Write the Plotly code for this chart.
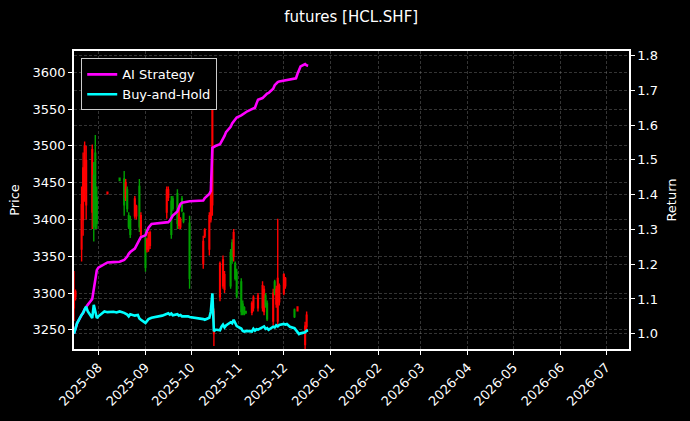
import plotly.graph_objects as go

# candles (only the days that show a visible bar)
candle_dates = [
    "2025-07-16", "2025-07-17", "2025-07-21", "2025-07-22", "2025-07-23", "2025-07-24",
    "2025-07-28", "2025-07-29", "2025-07-30", "2025-07-31", "2025-08-07", "2025-08-15",
    "2025-08-18", "2025-08-19", "2025-08-20", "2025-08-21", "2025-08-22", "2025-08-25",
    "2025-08-26", "2025-08-28", "2025-08-29", "2025-09-01", "2025-09-02", "2025-09-03",
    "2025-09-04", "2025-09-15", "2025-09-16", "2025-09-18", "2025-09-19", "2025-09-22",
    "2025-09-23", "2025-09-24", "2025-09-25", "2025-09-26", "2025-09-30", "2025-10-09",
    "2025-10-10", "2025-10-13", "2025-10-14", "2025-10-15", "2025-10-16", "2025-10-20",
    "2025-10-22", "2025-10-23", "2025-10-27", "2025-10-28", "2025-10-29", "2025-10-30",
    "2025-10-31", "2025-11-03", "2025-11-04", "2025-11-05", "2025-11-06", "2025-11-10",
    "2025-11-11", "2025-11-14", "2025-11-17", "2025-11-18", "2025-11-19", "2025-11-20",
    "2025-11-24", "2025-11-25", "2025-11-26", "2025-11-27", "2025-11-28", "2025-12-01",
    "2025-12-02", "2025-12-08", "2025-12-10", "2025-12-15", "2025-12-16",
]
candle_open = [
    3300, 3302, 3420, 3470, 3500, 3480, 3495, 3390, 3400, 3395, 3437, 3453,
    3420, 3450, 3415, 3390, 3380, 3428, 3418, 3390, 3405, 3335, 3372, 3380,
    3382, 3440, 3440, 3380, 3415, 3395, 3415, 3400, 3412, 3398, 3320, 3370,
    3386, 3405, 3435, 3600, 3275, 3340, 3345, 3325, 3310, 3345, 3382, 3320,
    3296, 3275, 3272, 3272, 3273, 3286, 3294, 3296, 3310, 3305, 3283, 3265,
    3300, 3300, 3305, 3320, 3310, 3325, 3320, 3268, 3281, 3255, 3270,
]
candle_high = [
    3330, 3305, 3445, 3491, 3506, 3500, 3502, 3478, 3515, 3445, 3438, 3457,
    3466, 3455, 3445, 3410, 3405, 3432, 3420, 3455, 3410, 3387, 3375, 3383,
    3385, 3445, 3445, 3432, 3432, 3441, 3420, 3403, 3432, 3410, 3405, 3378,
    3388, 3410, 3441, 3613, 3279, 3343, 3351, 3330, 3360, 3373, 3387, 3343,
    3333, 3320, 3290, 3282, 3276, 3289, 3297, 3300, 3316, 3310, 3300, 3290,
    3306, 3318, 3310, 3401, 3313, 3327, 3322, 3279, 3282, 3261, 3275,
]
candle_low = [
    3262, 3290, 3343, 3378, 3424, 3400, 3387, 3370, 3387, 3387, 3434, 3452,
    3405, 3425, 3410, 3387, 3375, 3401, 3400, 3383, 3375, 3329, 3355, 3356,
    3360, 3401, 3425, 3374, 3412, 3387, 3387, 3387, 3410, 3395, 3306, 3333,
    3375, 3351, 3396, 3405, 3228, 3289, 3306, 3300, 3306, 3340, 3343, 3317,
    3293, 3270, 3270, 3270, 3272, 3270, 3275, 3275, 3275, 3270, 3280, 3262,
    3256, 3297, 3280, 3256, 3283, 3297, 3306, 3266, 3275, 3215, 3250,
]
candle_close = [
    3280, 3295, 3360, 3400, 3440, 3420, 3410, 3460, 3490, 3430, 3435, 3456,
    3455, 3430, 3440, 3405, 3400, 3405, 3405, 3445, 3380, 3375, 3360, 3360,
    3365, 3410, 3430, 3425, 3428, 3435, 3392, 3390, 3428, 3408, 3395, 3340,
    3378, 3360, 3400, 3420, 3245, 3295, 3310, 3305, 3355, 3368, 3350, 3340,
    3328, 3315, 3285, 3280, 3275, 3274, 3280, 3280, 3280, 3275, 3296, 3286,
    3262, 3315, 3285, 3262, 3288, 3300, 3310, 3277, 3276, 3230, 3255,
]

# cumulative returns
ret_dates = [
    "2025-07-16", "2025-07-17", "2025-07-18", "2025-07-21", "2025-07-22", "2025-07-23",
    "2025-07-24", "2025-07-25", "2025-07-28", "2025-07-29", "2025-07-30", "2025-07-31",
    "2025-08-01", "2025-08-04", "2025-08-05", "2025-08-07", "2025-08-11", "2025-08-13",
    "2025-08-15", "2025-08-18", "2025-08-19", "2025-08-20", "2025-08-21", "2025-08-22",
    "2025-08-25", "2025-08-27", "2025-08-28", "2025-08-29", "2025-09-01", "2025-09-02",
    "2025-09-03", "2025-09-05", "2025-09-09", "2025-09-12", "2025-09-16", "2025-09-17",
    "2025-09-18", "2025-09-19", "2025-09-22", "2025-09-23", "2025-09-24", "2025-09-25",
    "2025-09-29", "2025-09-30", "2025-10-09", "2025-10-10", "2025-10-13", "2025-10-14",
    "2025-10-15", "2025-10-16", "2025-10-17", "2025-10-20", "2025-10-21", "2025-10-22",
    "2025-10-23", "2025-10-24", "2025-10-27", "2025-10-28", "2025-10-29", "2025-10-30",
    "2025-10-31", "2025-11-03", "2025-11-04", "2025-11-05", "2025-11-06", "2025-11-07",
    "2025-11-10", "2025-11-11", "2025-11-12", "2025-11-13", "2025-11-14", "2025-11-17",
    "2025-11-18", "2025-11-19", "2025-11-20", "2025-11-21", "2025-11-24", "2025-11-25",
    "2025-11-26", "2025-11-27", "2025-11-28", "2025-12-01", "2025-12-02", "2025-12-03",
    "2025-12-04", "2025-12-05", "2025-12-08", "2025-12-09", "2025-12-10", "2025-12-11",
    "2025-12-12", "2025-12-15", "2025-12-16", "2025-12-17",
]
ai_return = [
    1.000, 1.015, 1.030, 1.054, 1.060, 1.070, 1.078, 1.083, 1.100, 1.130, 1.160, 1.183,
    1.190, 1.197, 1.200, 1.205, 1.206, 1.207, 1.207, 1.212, 1.216, 1.222, 1.230, 1.235,
    1.245, 1.259, 1.270, 1.278, 1.283, 1.295, 1.305, 1.316, 1.318, 1.320, 1.321, 1.325,
    1.335, 1.340, 1.352, 1.362, 1.373, 1.377, 1.380, 1.381, 1.383, 1.390, 1.402, 1.411,
    1.535, 1.538, 1.540, 1.545, 1.552, 1.560, 1.569, 1.580, 1.595, 1.605, 1.612, 1.616,
    1.622, 1.628, 1.631, 1.633, 1.638, 1.640, 1.646, 1.648, 1.650, 1.662, 1.673, 1.678,
    1.683, 1.688, 1.691, 1.693, 1.705, 1.715, 1.720, 1.724, 1.726, 1.728, 1.729, 1.730,
    1.731, 1.732, 1.733, 1.735, 1.748, 1.762, 1.769, 1.776, 1.772, 1.771,
]
bh_return = [
    1.000, 1.015, 1.030, 1.054, 1.060, 1.070, 1.078, 1.065, 1.045, 1.083, 1.065, 1.045,
    1.050, 1.060, 1.064, 1.062, 1.063, 1.061, 1.064, 1.060, 1.058, 1.055, 1.050, 1.056,
    1.052, 1.054, 1.044, 1.040, 1.031, 1.036, 1.042, 1.046, 1.050, 1.052, 1.059, 1.055,
    1.058, 1.053, 1.056, 1.052, 1.054, 1.050, 1.050, 1.048, 1.042, 1.040, 1.046, 1.064,
    1.116, 1.007, 1.012, 1.010, 1.020, 1.026, 1.018, 1.024, 1.033, 1.030, 1.040, 1.030,
    1.022, 1.015, 1.008, 1.006, 1.007, 1.008, 1.006, 1.014, 1.009, 1.013, 1.012, 1.020,
    1.021, 1.014, 1.016, 1.011, 1.020, 1.018, 1.024, 1.021, 1.025, 1.028, 1.026, 1.028,
    1.024, 1.020, 1.016, 1.010, 1.004, 0.999, 1.001, 1.004, 1.009, 1.009,
]

grid = dict(showgrid=True, gridcolor="rgba(150,150,150,0.35)", gridwidth=0.5, griddash="3px,2px")
tick_font = dict(family="DejaVu Sans", size=13, color="white")

fig = go.Figure()

fig.add_trace(go.Candlestick(
    x=candle_dates, open=candle_open, high=candle_high, low=candle_low, close=candle_close,
    increasing=dict(line=dict(color="#00a000", width=1.4), fillcolor="#00a000"),
    decreasing=dict(line=dict(color="#ff0000", width=1.4), fillcolor="#ff0000"),
    whiskerwidth=0, showlegend=False, yaxis="y",
))

fig.add_trace(go.Scatter(
    x=ret_dates, y=ai_return, mode="lines", name="AI Strategy",
    line=dict(color="#ff00ff", width=2.6), yaxis="y2",
))
fig.add_trace(go.Scatter(
    x=ret_dates, y=bh_return, mode="lines", name="Buy-and-Hold",
    line=dict(color="#00ffff", width=2.6), yaxis="y2",
))

fig.update_layout(
    width=690, height=421,
    paper_bgcolor="black", plot_bgcolor="black",
    margin=dict(l=74, r=61, t=51, b=70),
    font=dict(family="DejaVu Sans", size=13, color="white"),
    title=dict(text="futures [HCL.SHF]", x=0.509, xanchor="center", y=0.96, yanchor="middle",
               font=dict(size=15, color="white")),
    xaxis=dict(
        type="date", range=["2025-07-16", "2026-07-16"], dtick="M1", tick0="2025-08-01",
        tickformat="%Y-%m", tickangle=-45, ticks="outside", ticklen=4, tickcolor="white",
        showline=True, linecolor="white", linewidth=1.5, mirror=True,
        rangeslider=dict(visible=False), tickfont=tick_font, **grid,
    ),
    yaxis=dict(
        range=[3224, 3629], dtick=50, title=dict(text="Price", standoff=10, font=dict(size=13)),
        ticks="outside", ticklen=4, tickcolor="white",
        showline=True, linecolor="white", linewidth=1.5, tickfont=tick_font, **grid,
    ),
    yaxis2=dict(
        range=[0.956, 1.8134], dtick=0.1, tickformat=".1f", overlaying="y", side="right",
        title=dict(text="Return", standoff=10, font=dict(size=13)),
        ticks="outside", ticklen=4, tickcolor="white",
        showline=True, linecolor="white", linewidth=1.5, tickfont=tick_font, **grid,
    ),
    legend=dict(
        x=0.013, y=0.975, xanchor="left", yanchor="top",
        bgcolor="black", bordercolor="#cccccc", borderwidth=1,
        font=dict(size=13, color="white"),
    ),
)

fig.write_html("out.html", config={"displayModeBar": False},
               post_script="document.body.style.margin='0px';")
